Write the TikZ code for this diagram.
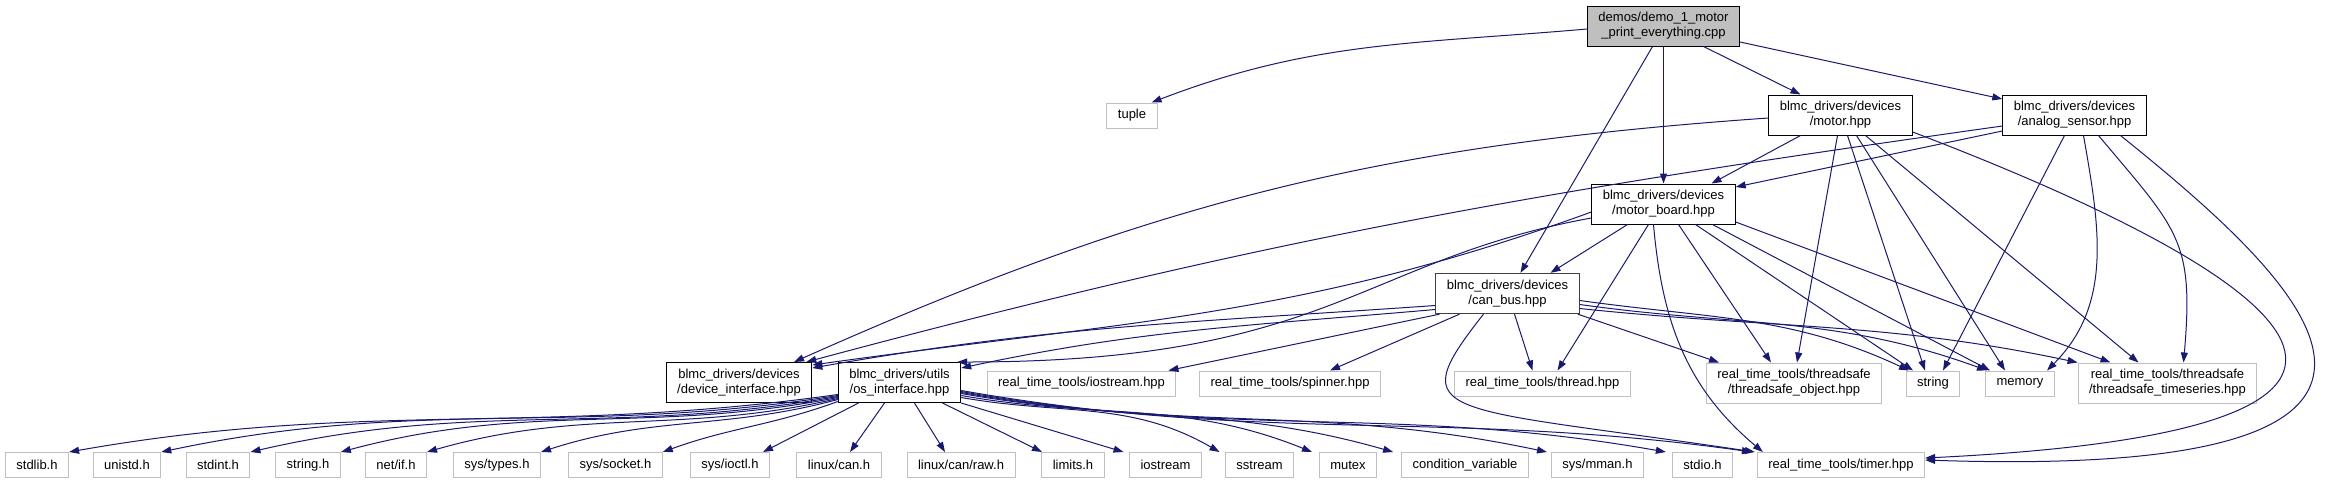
\documentclass[tikz,border=0pt]{standalone}
\usepackage{fontspec}
\setmainfont{Liberation Sans}
\usetikzlibrary{arrows.meta}
\definecolor{midblue}{HTML}{191970}

\begin{document}
\begin{tikzpicture}[
x=0.5pt, y=0.5pt,
file/.style={draw=black, line width=0.5pt, fill=white, inner xsep=5.5pt, inner ysep=0pt, minimum height=12.5pt, font=\fontsize{6.5}{7.5}\selectfont},
two/.style={align=center, minimum height=20pt},
sys/.style={file, draw=black!25},
root/.style={file, two, fill=black!25},
dep/.style={draw=midblue, line width=0.5pt, -{Triangle[length=5pt,width=3.5pt]}}
]
\useasboundingbox (0,0) rectangle (2326,-484);

\node[root] (demo) at (1663.5,-26) {demos/demo\_1\_motor\\\_print\_everything.cpp};
\node[sys] (tuple) at (1132,-115.5) {tuple};
\node[file,two] (motor) at (1840.5,-115) {blmc\_drivers/devices\\/motor.hpp};
\node[file,two] (analog) at (2074.5,-115) {blmc\_drivers/devices\\/analog\_sensor.hpp};
\node[file,two] (mboard) at (1663.5,-204) {blmc\_drivers/devices\\/motor\_board.hpp};
\node[file,two,draw=black!75,line width=0.65pt] (canbus) at (1507.5,-293.5) {blmc\_drivers/devices\\/can\_bus.hpp};
\node[file,two] (devint) at (739,-382.5) {blmc\_drivers/devices\\/device\_interface.hpp};
\node[file,two] (osint) at (899.5,-382.5) {blmc\_drivers/utils\\/os\_interface.hpp};
\node[sys] (rtiostream) at (1081.5,-383.5) {real\_time\_tools/iostream.hpp};
\node[sys] (spinner) at (1290,-383.5) {real\_time\_tools/spinner.hpp};
\node[sys] (thread) at (1542.5,-383.5) {real\_time\_tools/thread.hpp};
\node[sys,two] (tsobject) at (1794,-383) {real\_time\_tools/threadsafe\\/threadsafe\_object.hpp};
\node[sys] (string) at (1933,-383.5) {string};
\node[sys] (memory) at (2020,-383.5) {memory};
\node[sys,two] (tsseries) at (2167.5,-383) {real\_time\_tools/threadsafe\\/threadsafe\_timeseries.hpp};

\node[sys] (stdlibh) at (37,-465) {stdlib.h};
\node[sys] (unistdh) at (127,-465) {unistd.h};
\node[sys] (stdinth) at (218,-465) {stdint.h};
\node[sys] (stringh) at (308,-465) {string.h};
\node[sys] (netifh) at (396,-465) {net/if.h};
\node[sys] (systypesh) at (497,-465) {sys/types.h};
\node[sys] (syssocketh) at (615.5,-465) {sys/socket.h};
\node[sys] (sysioctlh) at (730,-465) {sys/ioctl.h};
\node[sys] (linuxcanh) at (839,-465) {linux/can.h};
\node[sys] (linuxcanrawh) at (961,-465) {linux/can/raw.h};
\node[sys] (limitsh) at (1073,-465) {limits.h};
\node[sys] (iostream) at (1165.5,-465) {iostream};
\node[sys] (sstream) at (1259.5,-465) {sstream};
\node[sys] (mutex) at (1348,-465) {mutex};
\node[sys] (condvar) at (1465,-465) {condition\_variable};
\node[sys] (sysmmanh) at (1597.5,-465) {sys/mman.h};
\node[sys] (stdioh) at (1702.5,-465) {stdio.h};
\node[sys] (timer) at (1841,-465) {real\_time\_tools/timer.hpp};

\draw[dep] ([yshift=-1.5pt]demo.west) to[out=185,in=21] ([xshift=-3pt]tuple.north east);
\draw[dep] ([xshift=20pt]demo.south) -- ([xshift=-20pt]motor.north);
\draw[dep] ([yshift=-8pt]demo.east) -- ([yshift=8pt]analog.west);
\draw[dep] (demo) -- (mboard);
\draw[dep] ([xshift=-5.5pt]demo.south) -- ([xshift=6.5pt]canbus.north);

\draw[dep] ([yshift=-1.5pt]motor.west) to[out=184,in=24] ([xshift=27.5pt]devint.north);
\draw[dep] ([xshift=-20pt]motor.south) -- ([xshift=24pt]mboard.north);
\draw[dep] ([xshift=-1.5pt]motor.south) -- ([xshift=1.5pt]tsobject.north);
\draw[dep] ([xshift=3.5pt]motor.south) -- ([xshift=-4pt]string.north);
\draw[dep] ([xshift=8pt]motor.south) -- ([xshift=-7.5pt]memory.north);
\draw[dep] ([xshift=12.5pt]motor.south) -- ([xshift=-14.5pt]tsseries.north);
\draw[dep] ([yshift=-8.5pt]motor.east) .. controls (2300,-280) and (2500,-430) .. ([yshift=3.5pt]timer.east);

\draw[dep] ([yshift=-5.5pt]analog.west) to[out=188,in=15] ([xshift=-3pt]devint.north east);
\draw[dep] ([yshift=-8pt]analog.west) -- ([yshift=8.5pt]mboard.east);
\draw[dep] ([xshift=-5pt]analog.south) -- ([xshift=5pt]string.north);
\draw[dep] ([xshift=4.5pt]analog.south) to[out=-80,in=45] ([xshift=13.5pt]memory.north);
\draw[dep] ([xshift=12pt]analog.south) to[out=-50,in=85,looseness=1.3] ([xshift=8pt]tsseries.north);
\draw[dep] ([xshift=23pt]analog.south) .. controls (2300,-280) and (2520,-480) .. ([yshift=2.5pt]timer.east);

\draw[dep] ([xshift=-18pt]mboard.south) -- ([xshift=21.5pt]canbus.north);
\draw[dep] ([yshift=-4pt]mboard.west) to[out=200,in=8] ([yshift=-1.5pt]devint.north east);
\draw[dep] ([yshift=-7pt]mboard.west) .. controls (1360,-260) and (1330,-362) .. ([xshift=-2pt]osint.north east);
\draw[dep] ([xshift=-7.5pt]mboard.south) -- ([xshift=7.5pt]thread.north);
\draw[dep] ([xshift=-5pt]mboard.south) to[out=-85,in=140] ([xshift=3pt]timer.north west);
\draw[dep] ([xshift=7.5pt]mboard.south) -- ([xshift=-11.5pt]tsobject.north);
\draw[dep] ([xshift=16pt]mboard.south) -- ([xshift=-10pt]string.north);
\draw[dep] ([xshift=24.5pt]mboard.south) -- ([xshift=-15pt]memory.north);
\draw[dep] ([yshift=-9pt]mboard.east) -- ([xshift=-28.5pt]tsseries.north);

\draw[dep] ([yshift=-6pt]canbus.west) to[out=184,in=10] ([yshift=-3pt]devint.north east);
\draw[dep] ([yshift=-8pt]canbus.west) to[out=185,in=12] ([yshift=-3pt]osint.north east);
\draw[dep] ([xshift=-34pt]canbus.south) -- ([xshift=-4pt]rtiostream.north east);
\draw[dep] ([xshift=-24pt]canbus.south) -- ([xshift=20pt]spinner.north);
\draw[dep] ([xshift=3.5pt]canbus.south) -- ([xshift=-5pt]thread.north);
\draw[dep] ([xshift=-12pt]canbus.south) .. controls (1400,-420) and (1440,-405) .. ([xshift=-1pt]timer.north west);
\draw[dep] ([xshift=-1pt]canbus.south east) -- ([xshift=-37.5pt]tsobject.north);
\draw[dep] ([yshift=-3.5pt]canbus.east) to[out=-8,in=155] ([xshift=-12pt]string.north);
\draw[dep] ([yshift=-5.5pt]canbus.east) to[out=-8,in=160] ([xshift=-16.5pt]memory.north);
\draw[dep] ([yshift=-7.5pt]canbus.east) to[out=-6,in=168] (tsseries.north west);

\draw[dep] ([yshift=-6pt]osint.west) to[out=188,in=10] (stdlibh.north east);
\draw[dep] ([yshift=-6.5pt]osint.west) to[out=189,in=12] (unistdh.north east);
\draw[dep] ([yshift=-7pt]osint.west) to[out=190,in=13] (stdinth.north east);
\draw[dep] ([yshift=-7.5pt]osint.west) to[out=191,in=15] (stringh.north east);
\draw[dep] ([yshift=-8pt]osint.west) to[out=193,in=16] (netifh.north east);
\draw[dep] ([yshift=-8.5pt]osint.west) to[out=195,in=18] (systypesh.north east);
\draw[dep] ([yshift=-9.5pt]osint.west) to[out=200,in=20] (syssocketh.north east);
\draw[dep] ([xshift=-20.5pt]osint.south) -- ([xshift=-3.5pt]sysioctlh.north east);
\draw[dep] ([xshift=-7.5pt]osint.south) -- ([xshift=5.5pt]linuxcanh.north);
\draw[dep] ([xshift=7.5pt]osint.south) -- ([xshift=-8pt]linuxcanrawh.north);
\draw[dep] ([xshift=21.5pt]osint.south) -- ([xshift=-15.5pt]limitsh.north);
\draw[dep] (osint.south east) -- ([xshift=-21pt]iostream.north);
\draw[dep] ([yshift=-7.5pt]osint.east) to[out=-10,in=150] ([xshift=-20pt]sstream.north);
\draw[dep] ([yshift=-6.5pt]osint.east) to[out=-10,in=158] ([xshift=-18pt]mutex.north);
\draw[dep] ([yshift=-5.5pt]osint.east) to[out=-10,in=164] ([xshift=-4pt]condvar.north west);
\draw[dep] ([yshift=-5pt]osint.east) to[out=-10,in=168] ([xshift=-2pt]sysmmanh.north west);
\draw[dep] ([yshift=-4.5pt]osint.east) to[out=-10,in=170] ([xshift=-3pt]stdioh.north west);
\draw[dep] ([yshift=-4pt]osint.east) to[out=-10,in=172] ([xshift=-2.5pt]timer.north west);
\end{tikzpicture}
\end{document}
